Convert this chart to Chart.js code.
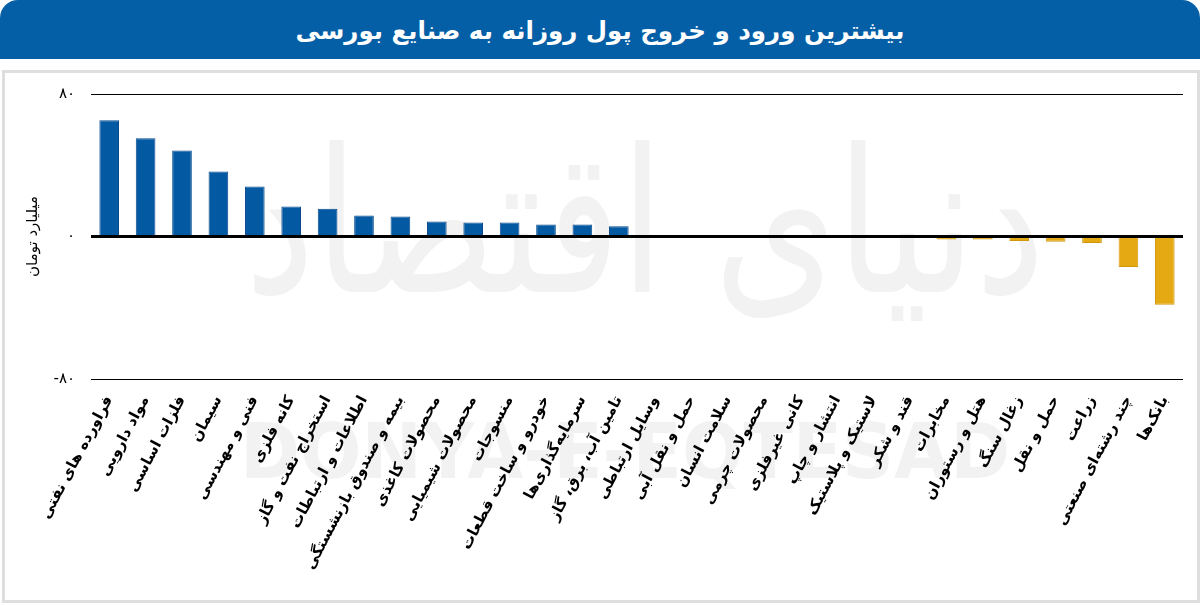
<!DOCTYPE html>
<html lang="fa">
<head>
<meta charset="utf-8">
<script src="https://cdn.jsdelivr.net/npm/chart.js@4.4.1/dist/chart.umd.min.js"></script>
<style>
  html, body {
    margin: 0;
    padding: 0;
    background: #fff;
  }
  #page {
    position: relative;
    width: 1200px;
    height: 603px;
    overflow: hidden;
  }
  #header {
    position: absolute;
    left: 0;
    top: 0;
    width: 1200px;
    height: 59px;
    background: #055fa7;
    border-radius: 18px 18px 0 0;
    color: #fff;
    font-family: "DejaVu Sans", sans-serif;
    font-weight: bold;
    font-size: 24.5px;
    line-height: 62px;
    text-align: center;
    direction: rtl;
  }
  #frame {
    position: absolute;
    left: 2px;
    top: 70px;
    width: 1192px;
    height: 527px;
    border: 3px solid #dedede;
  }
  #chart-wrap {
    position: absolute;
    left: 0;
    top: 0;
    width: 1200px;
    height: 603px;
  }
</style>
</head>
<body>
<div id="page">
  <div id="header">بیشترین ورود و خروج پول روزانه به صنایع بورسی</div>
  <div id="frame"></div>
  <div id="chart-wrap"><canvas id="flow-canvas"></canvas></div>
</div>
<script>
// data (billion tomans)
const industries = [
  "فراورده های نفتی",
  "مواد دارویی",
  "فلزات اساسی",
  "سیمان",
  "فنی و مهندسی",
  "کانه فلزی",
  "استخراج نفت و گاز",
  "اطلاعات و ارتباطات",
  "بیمه و صندوق بازنشستگی",
  "محصولات کاغذی",
  "محصولات شیمیایی",
  "منسوجات",
  "خودرو و ساخت قطعات",
  "سرمایه‌گذاری‌ها",
  "تامین آب، برق، گاز",
  "وسایل ارتباطی",
  "حمل و نقل آبی",
  "سلامت انسان",
  "محصولات چرمی",
  "کانی غیرفلزی",
  "انتشار و چاپ",
  "لاستیک و پلاستیک",
  "قند و شکر",
  "مخابرات",
  "هتل و رستوران",
  "زغال سنگ",
  "حمل و نقل",
  "زراعت",
  "چند رشته‌ای صنعتی",
  "بانک‌ها",
];

const netFlow = [
  65.2, 55.1, 48.3, 36.5, 28.1, 16.9, 15.6, 11.8, 11.2, 8.4,
  7.9, 7.9, 6.7, 6.7, 5.8, 0, 0, 0, 0, 0,
  0, 0, 0, -1.7, -1.7, -2.5, -3.0, -3.6, -17.1, -38.3,
];

const yTickValues = [-80, 0, 80];
const yTickLabels = ["-۸۰", "۰", "۸۰"];

const yAxisTitle = "میلیارد تومان";
const watermarkFa = "دنیای اقتصاد";
const watermarkEn = "DONYA-E-EQTESAD";

// shared styles
const FONT = "DejaVu Sans";
const inflowColor = "#035aa3";
const inflowBorder = "#0a4b8e";
const outflowColor = "#e5a914";
const outflowBorder = "#d3970c";

Chart.defaults.font.family = FONT;
Chart.defaults.color = "#000";

// faint publisher watermark behind the bars
const watermark = {
  id: "watermark",
  beforeDraw(chart) {
    const { ctx } = chart;
    ctx.save();
    ctx.fillStyle = "#f2f2f2";
    ctx.textAlign = "center";
    ctx.textBaseline = "middle";
    ctx.font = `200px ${FONT}`;
    ctx.fillText(watermarkFa, 645, 240, 800);
    ctx.font = `bold 76px ${FONT}`;
    ctx.fillText(watermarkEn, 625, 458, 770);
    ctx.restore();
  },
};

new Chart(document.getElementById("flow-canvas"), {
  type: "bar",
  data: {
    labels: industries,
    datasets: [
      {
        label: yAxisTitle,
        data: netFlow,
        backgroundColor: (ctx) => (ctx.raw < 0 ? outflowColor : inflowColor),
        borderColor: (ctx) => (ctx.raw < 0 ? outflowBorder : inflowBorder),
        borderWidth: 1,
        barPercentage: 0.54,
        categoryPercentage: 1,
      },
    ],
  },
  options: {
    responsive: true,
    maintainAspectRatio: false,
    animation: false,
    layout: {
      padding: { left: 0, right: 17, top: 94, bottom: 0 },
    },
    plugins: {
      legend: { display: false },
      tooltip: { enabled: false },
    },
    scales: {
      x: {
        grid: { display: false, drawTicks: false },
        border: { display: false },
        ticks: {
          autoSkip: false,
          minRotation: 62,
          maxRotation: 62,
          padding: 14,
          font: { size: 15, weight: "bold" },
          color: "#000",
        },
        afterFit: (scale) => {
          scale.height = 603 - 379;
        },
      },
      y: {
        min: -80,
        max: 80,
        afterBuildTicks: (scale) => {
          scale.ticks = yTickValues.map((v) => ({ value: v }));
        },
        ticks: {
          padding: 16,
          font: { size: 15 },
          color: "#000",
          callback: (value) => yTickLabels[yTickValues.indexOf(value)],
        },
        grid: {
          drawTicks: false,
          color: "#000",
          lineWidth: (ctx) => (ctx.tick && ctx.tick.value === 0 ? 3 : 1),
        },
        border: { display: false },
        title: {
          display: true,
          text: yAxisTitle,
          color: "#000",
          font: { size: 15 },
          padding: { top: 24, bottom: 0 },
        },
        afterFit: (scale) => {
          scale.width = 91;
        },
      },
    },
  },
  plugins: [watermark],
});
</script>
</body>
</html>
